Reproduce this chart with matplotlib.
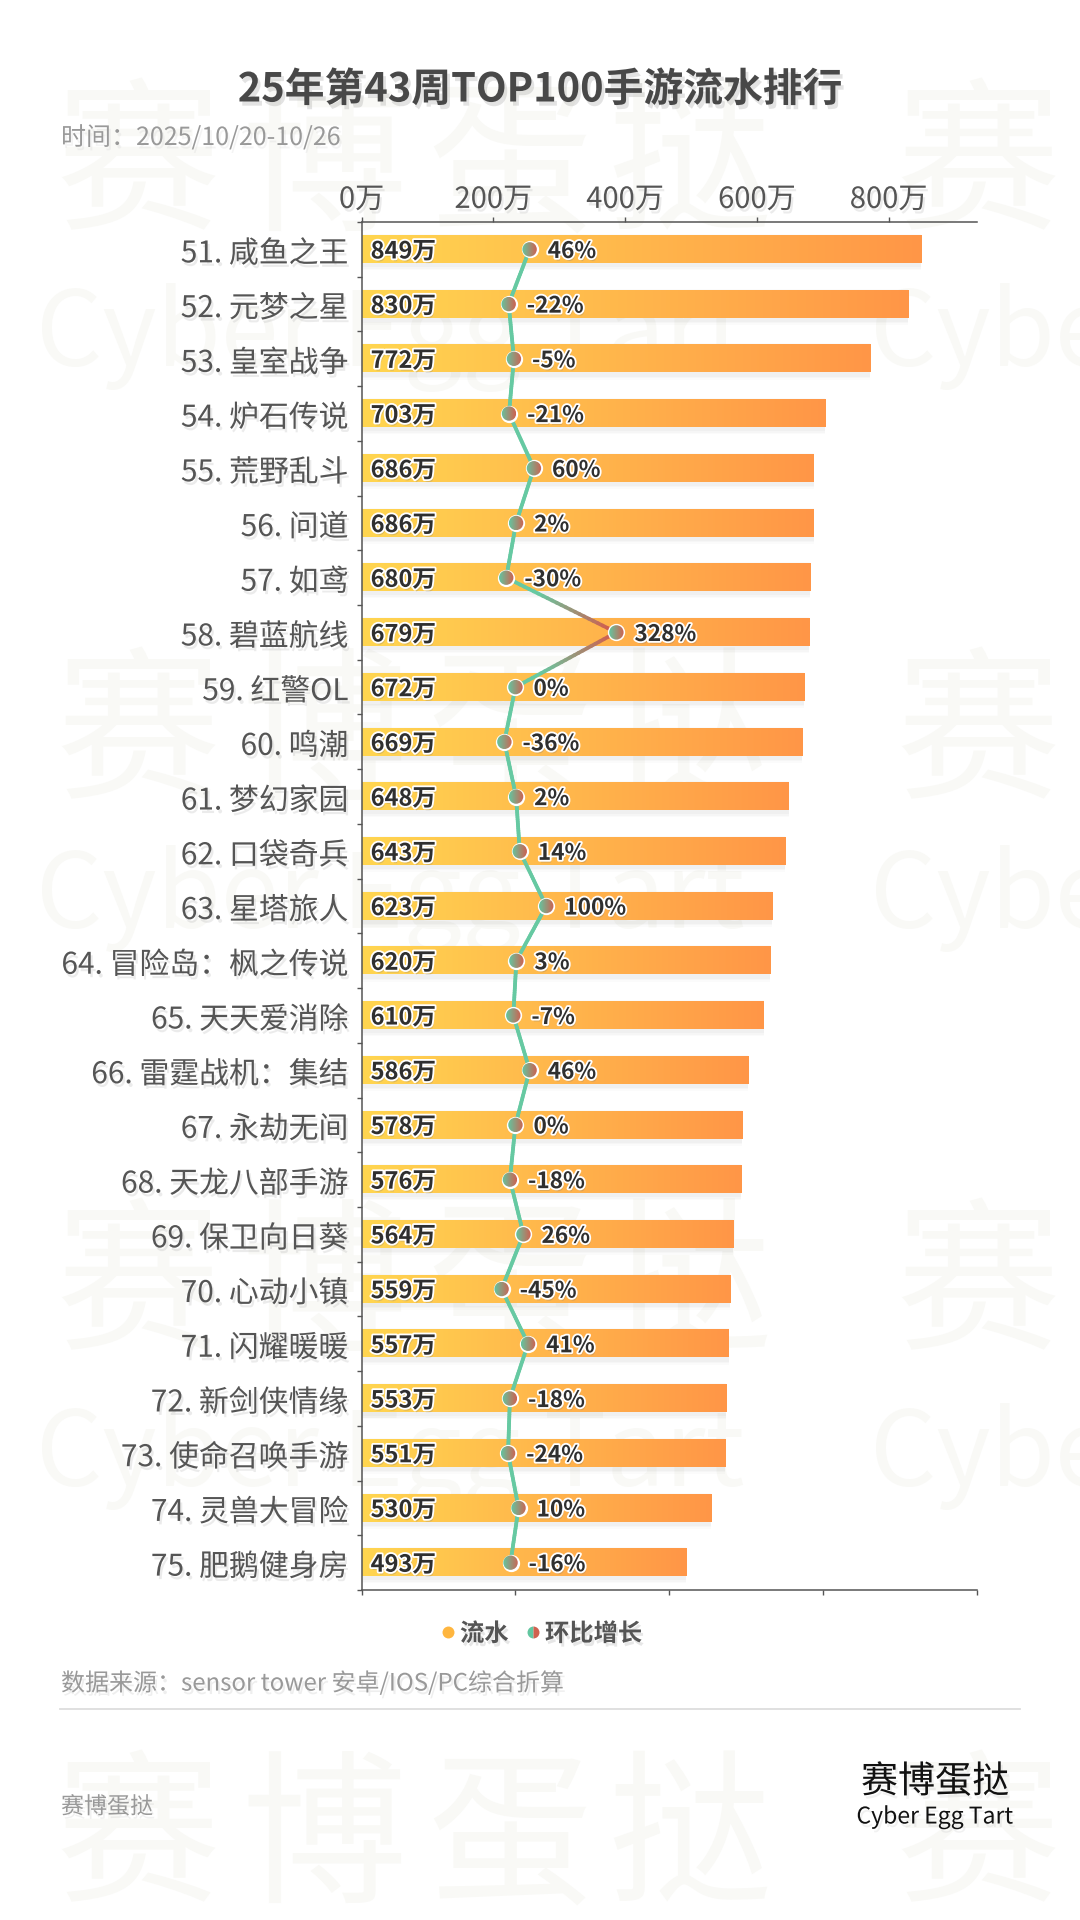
import numpy as np
import matplotlib
matplotlib.use("Agg")
import matplotlib.pyplot as plt
import matplotlib.patheffects as pe
from matplotlib.collections import LineCollection
from matplotlib.colors import LinearSegmentedColormap, Normalize
from matplotlib.lines import Line2D
from matplotlib.patches import Circle
from matplotlib.transforms import IdentityTransform, ScaledTranslation

plt.rcParams['font.family'] = ['Noto Sans CJK SC', 'DejaVu Sans']

games = ["51. 咸鱼之王", "52. 元梦之星", "53. 皇室战争", "54. 炉石传说", "55. 荒野乱斗",
         "56. 问道", "57. 如鸢", "58. 碧蓝航线", "59. 红警OL", "60. 鸣潮",
         "61. 梦幻家园", "62. 口袋奇兵", "63. 星塔旅人", "64. 冒险岛：枫之传说", "65. 天天爱消除",
         "66. 雷霆战机：集结", "67. 永劫无间", "68. 天龙八部手游", "69. 保卫向日葵", "70. 心动小镇",
         "71. 闪耀暖暖", "72. 新剑侠情缘", "73. 使命召唤手游", "74. 灵兽大冒险", "75. 肥鹅健身房"]
revenue = [849, 830, 772, 703, 686, 686, 680, 679, 672, 669, 648, 643, 623,
           620, 610, 586, 578, 576, 564, 559, 557, 553, 551, 530, 493]
growth = [46, -22, -5, -21, 60, 2, -30, 328, 0, -36, 2, 14, 100,
          3, -7, 46, 0, -18, 26, -45, 41, -18, -24, 10, -16]
revenue_ticks = [0, 200, 400, 600, 800]
growth_ticks = [-500, 0, 500, 1000, 1500]

W, H = 1080, 1920
BAR_CMAP = LinearSegmentedColormap.from_list("bar", ["#FFD650", "#FF9647"])
DOT_CMAP = LinearSegmentedColormap.from_list("dot", ["#62C6A0", "#D0604F"])
LINE_CMAP = LinearSegmentedColormap.from_list(
    "line", [(0, "#66C9A2"), (0.33, "#66C9A2"), (0.93, "#CF5F50"), (1, "#CF5F50")])
RAMP = np.linspace(0, 1, 256).reshape(1, -1)


def shadow(alpha=0.14, off=(1.5, -2.5)):
    return [pe.SimplePatchShadow(offset=off, shadow_rgbFace="#777777", alpha=alpha), pe.Normal()]


def label_fx():
    return [pe.SimplePatchShadow(offset=(1, -2), shadow_rgbFace="#777777", alpha=0.25),
            pe.withStroke(linewidth=2.6, foreground="white")]


def px_text(x, y, s, size, color, **kw):
    # position in picture pixels, size in pixels too
    return fig.text(x / W, 1 - y / H, s, fontsize=size * 0.72, color=color, va="center", **kw)


fig = plt.figure(figsize=(W / 100, H / 100), dpi=100, facecolor="white")

# watermark
for yc in [171, 740, 1291, 1843]:
    for xc, ch in zip([138, 324, 510, 689, 978], "赛博蛋挞赛"):
        px_text(xc, yc, ch, 165, "#F9F9F6", ha="center", zorder=-5)
for yc in [337, 900, 1457]:
    for xs in [36, 870]:
        px_text(xs, yc, "Cyber Egg Tart", 104, "#F9F9F6", ha="left", zorder=-5)

ax = fig.add_axes([361.6 / W, 1 - 1590 / H, 615.4 / W, 1368 / H])
ax.patch.set_visible(False)
ypos = np.arange(len(games))

# soft shadow under the bars, then the gradient on top
for grow, a in [(0.16, 0.025), (0.1, 0.03), (0.05, 0.04)]:
    ax.barh(ypos + 0.05, revenue, height=0.5 + grow, color="#666666", alpha=a, linewidth=0, zorder=1)
bars = ax.barh(ypos, revenue, height=0.5, color="#FFB84A", linewidth=0, zorder=2)
for b in bars:
    ax.imshow(RAMP, cmap=BAR_CMAP, aspect="auto", zorder=2.1, interpolation="bilinear",
              extent=(b.get_x(), b.get_x() + b.get_width(), b.get_y() + b.get_height(), b.get_y()))

ax.set_xlim(0, 934)
ax.set_ylim(len(games) - 0.5, -0.5)
for side in ["right", "bottom"]:
    ax.spines[side].set_visible(False)
for side in ["top", "left"]:
    ax.spines[side].set_color("#555555")
    ax.spines[side].set_linewidth(1.1)

for y, v in zip(ypos, revenue):
    ax.annotate(f"{v}万", (0, y), xytext=(6.5, -1.5), textcoords="offset points", va="center",
                fontsize=17, fontweight="bold", color="#2F2F2F", zorder=5, path_effects=label_fx())

# second value axis for the growth line
ax2 = ax.twiny()
ax2.set_zorder(ax.get_zorder() + 1)
ax2.set_xlim(growth_ticks[0], growth_ticks[-1])
ax2.xaxis.tick_bottom()
ax2.set_xticks(growth_ticks, [])
ax2.tick_params(axis="x", length=3.6, width=1, color="#555555")
for side in ["top", "left", "right"]:
    ax2.spines[side].set_visible(False)
ax2.spines["bottom"].set_color("#555555")
ax2.spines["bottom"].set_linewidth(1.1)

# twiny puts the first axis back at the bottom, so its ticks are set up here
ax.xaxis.tick_top()
ax.set_xticks(revenue_ticks, [f"{v}万" for v in revenue_ticks])
ax.tick_params(axis="x", length=3.6, width=1, color="#555555", labelcolor="#555555",
               labelsize=21, pad=1.5)
ax.set_yticks(ypos, games)
ax.tick_params(axis="y", which="major", length=0, labelcolor="#555555", labelsize=21.5, pad=9.5)
ax.set_yticks(np.arange(len(games) + 1) - 0.5, minor=True)
ax.tick_params(axis="y", which="minor", length=3.6, width=1, color="#555555")
for lab in ax.get_xticklabels():
    lab.set_path_effects(shadow())
nudge = ScaledTranslation(0, -1 / 100, fig.dpi_scale_trans)
for lab in ax.get_yticklabels():
    lab.set_path_effects(shadow())
    lab.set_transform(lab.get_transform() + nudge)

# the line colour follows x, so each stretch is cut up only to carry the gradient
g = np.array(growth, dtype=float)
norm = Normalize(g.min(), g.max())
segs, cols = [], []
for i in range(len(g) - 1):
    tt = np.linspace(0, 1, 25)
    xx = g[i] + (g[i + 1] - g[i]) * tt
    yy = ypos[i] + (ypos[i + 1] - ypos[i]) * tt
    for j in range(len(tt) - 1):
        segs.append([(xx[j], yy[j]), (xx[j + 1], yy[j + 1])])
        cols.append(LINE_CMAP(norm((xx[j] + xx[j + 1]) / 2)))
ax2.add_collection(LineCollection(segs, colors=cols, linewidths=2.7, capstyle="round", zorder=3))

ax2.scatter(growth, ypos, s=155, color="white", linewidths=0, zorder=4)
for x, y in zip(growth, ypos):
    px, py = ax2.transData.transform((x, y))
    (x0, y0), (x1, y1) = ax2.transData.inverted().transform([(px - 7.5, py - 7.5), (px + 7.5, py + 7.5)])
    im = ax2.imshow(RAMP, cmap=DOT_CMAP, aspect="auto", zorder=4.1, interpolation="bilinear",
                    extent=(x0, x1, y0, y1))
    im.set_clip_path(Circle((px, py), 7.2, transform=IdentityTransform()))
    ax2.annotate(f"{x}%", (x, y), xytext=(13, -1.5), textcoords="offset points", va="center",
                 fontsize=16.3, fontweight="bold", color="#2F2F2F", zorder=5, path_effects=label_fx())
ax2.set_xlim(growth_ticks[0], growth_ticks[-1])
ax2.set_ylim(len(games) - 0.5, -0.5)

# legend
handles = [Line2D([], [], ls="", marker="o", ms=8.6, mfc="#FFB63F", mec="none"),
           Line2D([], [], ls="", marker="o", ms=8.6, mfc="#62C6A0", mfcalt="#D0604F", mec="none",
                  fillstyle="left")]
leg = fig.legend(handles, ["流水", "环比增长"], loc="center", ncol=2, frameon=False,
                 bbox_to_anchor=(537 / W, 1 - 1634 / H), handletextpad=-0.15, columnspacing=0.35,
                 handlelength=1.3, prop={"size": 17.5, "weight": "bold"}, labelcolor="#555555")
for t in leg.get_texts():
    t.set_path_effects(shadow(0.18))

# headings and footer
px_text(540, 90, "25年第43周TOP100手游流水排行", 39.8, "#484848", ha="center", fontweight="bold",
        path_effects=shadow(0.2, (2, -3)))
px_text(61, 138, "时间：2025/10/20-10/26", 25, "#999999", ha="left", path_effects=shadow(0.08))
px_text(61, 1683, "数据来源：sensor tower 安卓/IOS/PC综合折算", 24, "#999999", ha="left",
        path_effects=shadow(0.12))
fig.add_artist(Line2D([60 / W, 1020 / W], [1 - 1709 / H] * 2, color="#DDDDDD", lw=1.3))
px_text(61, 1807, "赛博蛋挞", 23, "#999999", ha="left", path_effects=shadow(0.1))
px_text(935, 1782, "赛博蛋挞", 37, "#111111", ha="center", path_effects=shadow(0.1))
px_text(935, 1817, "Cyber Egg Tart", 23, "#111111", ha="center", path_effects=shadow(0.1))

fig.savefig("out.png", dpi=100)
